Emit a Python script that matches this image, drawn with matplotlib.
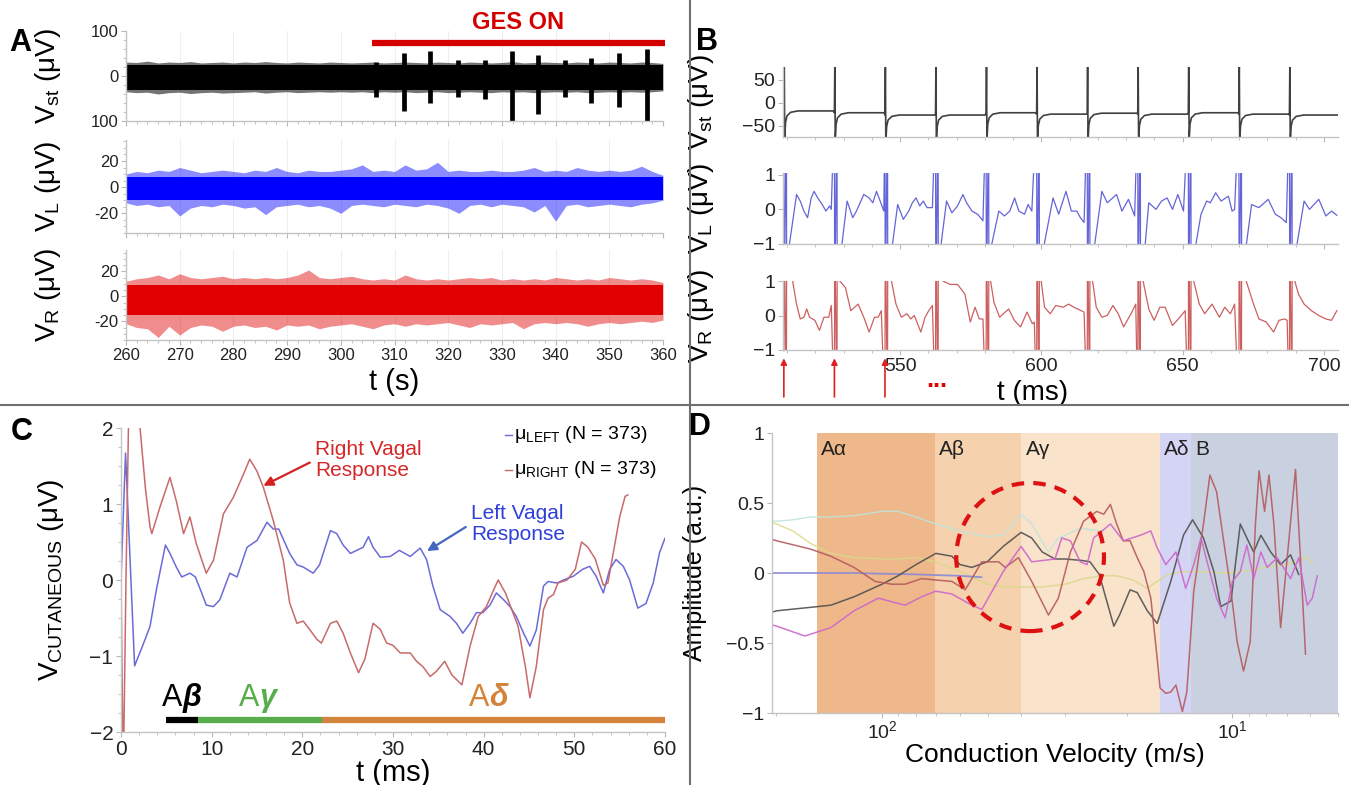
import numpy as np
import matplotlib.pyplot as plt
from matplotlib.lines import Line2D
from matplotlib.patches import Ellipse
from matplotlib.ticker import MultipleLocator, NullFormatter, LogLocator

plt.rcParams['font.family'] = ['Liberation Sans', 'DejaVu Sans']
plt.rcParams['mathtext.fontset'] = 'custom'
plt.rcParams['mathtext.rm'] = 'Liberation Sans'
plt.rcParams['mathtext.it'] = 'Liberation Sans:italic'
plt.rcParams['mathtext.bf'] = 'Liberation Sans:bold'

NARROW = ['Liberation Sans Narrow', 'Liberation Sans', 'DejaVu Sans']

# ---------------- A: raw recordings (envelopes every 2 s) ----------------
a_time = np.arange(260, 361, 2)
vst_hi = [31, 30, 33, 29, 31, 30, 32, 29, 30, 31, 29, 31, 30, 32, 30, 29, 31, 30, 29, 31,
          30, 29, 30, 31, 29, 30, 31, 30, 29, 31, 30, 29, 31, 30, 29, 30, 32, 29, 30, 31,
          30, 29, 31, 30, 29, 31, 30, 29, 31, 30, 28]
vst_lo = [-35, -37, -36, -40, -37, -36, -39, -37, -36, -38, -37, -36, -35, -38, -36, -35, -37,
          -36, -35, -36, -35, -36, -35, -37, -35, -36, -35, -37, -36, -35, -37, -36, -35, -36,
          -37, -35, -36, -35, -37, -36, -35, -36, -35, -37, -36, -35, -36, -35, -36, -35, -33]
vst_core = (25, -30)
# stimulation artefacts during GES
ges_t = [306.5, 311.8, 316.7, 321.9, 326.9, 331.8, 336.7, 341.8, 346.6, 351.8, 357.0]
ges_hi = [32, 51, 55, 35, 35, 55, 47, 35, 40, 51, 59]
ges_lo = [-46, -77, -61, -46, -50, -100, -84, -46, -61, -69, -100]
ges_on = (305.8, 360.4)

vl_hi = [10, 12, 11, 13, 12, 15, 13, 11, 12, 13, 12, 11, 13, 12, 15, 12, 11, 13, 12, 12,
         13, 14, 17, 12, 13, 12, 17, 13, 14, 19, 12, 13, 12, 12, 13, 12, 12, 13, 15, 12,
         13, 12, 15, 13, 12, 13, 12, 13, 16, 12, 9]
vl_lo = [-12, -14, -13, -15, -14, -22, -16, -14, -15, -13, -14, -16, -15, -21, -15, -14, -13,
         -15, -14, -16, -20, -14, -13, -14, -15, -13, -14, -15, -13, -14, -16, -20, -14, -13,
         -15, -13, -14, -15, -19, -14, -26, -14, -13, -15, -14, -13, -14, -15, -13, -12, -10]
vl_core = (8, -10)

vr_hi = [12, 14, 15, 17, 14, 18, 15, 14, 15, 16, 14, 15, 14, 15, 14, 15, 17, 21, 15, 14,
         15, 16, 14, 13, 14, 13, 17, 14, 13, 14, 13, 14, 15, 14, 15, 13, 14, 13, 14, 13,
         15, 14, 13, 14, 13, 15, 14, 13, 14, 13, 11]
vr_lo = [-22, -25, -26, -33, -24, -31, -25, -23, -24, -28, -24, -23, -25, -24, -27, -23, -24,
         -23, -26, -24, -23, -22, -24, -26, -23, -22, -24, -22, -23, -22, -21, -23, -25, -22,
         -23, -22, -21, -26, -22, -21, -22, -21, -22, -24, -22, -21, -22, -21, -20, -21, -19]
vr_core = (9, -15)

# ---------------- B: single sweeps around each stimulus ----------------
stim_t = [508.8, 526.7, 544.6, 562.5, 580.4, 598.3, 616.2, 634.1, 652.0, 669.9, 687.8]

vst_base = [-18, -22, -27, -27, -22, -25, -23, -25, -22, -25, -27]
vst_art_off = [0.0, 0.15, 0.3, 0.6, 1.1, 2.4, 5.0, 17.6]
vst_art_rel = [0, 110, -60, -25, -11, -3, 0, 0]

vl_art_off = [0.0, 0.1, 0.9, 1.0]
vl_art_val = [3, -3, 3, -3]
vl_off = [
    [1.9, 4.5, 5.8, 7.1, 8.4, 9.7, 10.7, 12.0, 13.6, 14.9, 16.2, 16.8],
    [2.6, 4.5, 6.5, 7.8, 10.4, 12.3, 13.6, 14.9, 16.2, 17.5],
    [2.6, 4.5, 6.5, 8.4, 9.7, 11.0, 12.3, 13.6, 14.9, 16.8],
    [1.9, 3.9, 5.8, 7.8, 9.7, 11.0, 12.9, 14.9, 16.8],
    [1.9, 4.5, 6.5, 8.4, 10.1, 11.6, 13.6, 14.9, 16.2],
    [2.6, 5.8, 7.8, 10.4, 12.3, 14.2, 15.5, 16.8],
    [2.6, 5.2, 7.1, 10.4, 12.3, 14.6, 16.8],
    [2.6, 3.9, 6.5, 8.4, 10.4, 12.3, 14.2, 16.2],
    [2.6, 4.5, 6.5, 7.8, 9.7, 11.6, 14.2, 15.5, 16.4],
    [2.6, 4.5, 7.1, 10.4, 12.9, 14.9, 16.8],
    [2.6, 5.2, 7.1, 10.4, 12.9, 14.9, 16.8],
]
vl_val = [
    [-1.05, 0.43, 0.24, -0.05, -0.24, 0.33, 0.52, 0.33, 0.14, -0.05, 0.10, 0.0],
    [-1.05, 0.24, -0.24, -0.05, 0.43, 0.33, 0.19, 0.52, 0.24, -0.05],
    [-1.05, 0.14, -0.29, -0.05, 0.19, 0.33, 0.10, 0.24, 0.05, 0.05],
    [-1.05, 0.24, -0.10, 0.10, 0.43, 0.19, -0.05, -0.14, -0.33],
    [-1.05, -0.05, -0.19, -0.05, 0.33, -0.05, -0.14, 0.14, -0.05],
    [-1.05, 0.33, -0.14, 0.52, -0.05, -0.05, -0.24, -0.38],
    [-1.05, 0.52, 0.19, 0.43, -0.05, 0.29, -0.19],
    [-1.05, 0.19, 0.0, 0.24, 0.33, 0.0, 0.43, -0.05],
    [-1.05, -0.14, 0.24, 0.19, 0.48, 0.24, 0.38, -0.05, 0.0],
    [-1.05, 0.14, 0.05, 0.29, -0.14, -0.24, -0.38],
    [-1.05, 0.24, 0.0, 0.29, -0.19, -0.05, -0.17],
]

vr_art_off = [0.0, 0.1, 0.9, 1.0]
vr_art_val = [-3, 3, -3, 3]
vr_off = [
    [3.2, 4.5, 5.8, 7.1, 8.1, 9.1, 11.0, 12.6, 14.2, 15.9, 16.8],
    [1.9, 3.9, 5.8, 8.4, 10.4, 12.3, 14.2, 15.5, 16.6],
    [2.3, 3.9, 5.8, 7.8, 9.1, 10.4, 12.7, 14.2, 15.5, 16.8],
    [2.6, 5.2, 7.8, 10.4, 12.3, 14.0, 15.5, 16.8],
    [1.6, 2.8, 4.8, 8.0, 10.0, 12.2, 14.5, 16.4, 17.1],
    [1.6, 2.8, 4.8, 6.8, 9.4, 11.3, 13.2, 15.8, 16.8],
    [1.9, 3.2, 5.2, 7.1, 9.1, 11.0, 12.9, 15.5, 17.2],
    [1.9, 3.9, 5.8, 7.8, 9.7, 12.3, 14.9, 16.8],
    [1.9, 3.9, 5.8, 8.4, 11.0, 12.9, 14.9, 16.4],
    [2.6, 5.2, 7.1, 9.7, 12.3, 14.2, 16.2, 17.1],
    [1.9, 3.2, 5.2, 7.8, 10.4, 12.9, 14.9, 16.8],
]
vr_val = [
    [0.95, 0.33, -0.10, -0.05, 0.19, -0.05, -0.14, -0.43, -0.05, -0.05, 0.29],
    [1.0, 0.81, 0.14, 0.33, -0.05, -0.48, -0.05, -0.05, 0.14],
    [1.0, 0.33, -0.05, 0.05, -0.10, 0.0, -0.48, -0.05, 0.14, 0.29],
    [1.0, 0.90, 0.90, 0.62, -0.19, 0.24, -0.10, -0.10],
    [1.0, 0.38, -0.05, 0.19, -0.14, -0.33, 0.10, -0.24, -0.19],
    [1.0, 0.24, 0.05, 0.29, 0.24, 0.33, 0.24, 0.14, 0.10],
    [1.0, 0.24, -0.05, 0.0, 0.29, 0.05, -0.33, 0.05, 0.33],
    [1.0, 0.19, -0.14, 0.24, 0.24, -0.29, -0.05, 0.14],
    [1.0, 0.33, 0.05, 0.33, -0.05, 0.24, 0.05, 0.33],
    [1.0, 0.33, -0.10, -0.19, -0.48, -0.14, -0.10, -0.14],
    [1.0, 0.62, 0.33, 0.14, 0.0, -0.10, -0.14, 0.14],
]

# ---------------- C: averaged cutaneous responses ----------------
left_t = [0.0, 0.5, 1.5, 2.5, 3.2, 3.9, 4.9, 5.4, 6.1, 6.7, 7.6, 8.2, 8.9, 9.4, 10.2,
          10.9, 12.0, 12.8, 13.9, 15.0, 16.1, 16.8, 17.4, 18.6, 19.4, 20.1, 21.2, 21.9, 23.1, 23.8,
          24.5, 25.3, 26.0, 26.7, 27.3, 27.8, 28.6, 29.7, 30.7, 31.9, 33.0, 33.7, 34.4, 35.2, 36.3,
          37.0, 37.7, 38.5, 39.2, 39.9, 40.7, 41.4, 42.2, 42.9, 43.6, 44.4, 45.1, 45.8, 46.6, 47.1,
          48.1, 48.8, 49.9, 50.9, 51.7, 52.4, 53.2, 53.9, 54.6, 55.4, 56.1, 57.0, 57.9, 58.7, 59.4,
          60.0]
left_v = [0.0, 1.67, -1.13, -0.83, -0.61, -0.13, 0.46, 0.35, 0.17, 0.04, 0.09, 0.04, -0.17, -0.33,
          -0.35, -0.26, 0.09, 0.04, 0.43, 0.52, 0.76, 0.67, 0.67, 0.35, 0.20, 0.17, 0.09, 0.20,
          0.65, 0.61, 0.46, 0.35, 0.39, 0.43, 0.57, 0.43, 0.30, 0.31, 0.39, 0.31, 0.42, 0.27,
          -0.08, -0.39, -0.48, -0.57, -0.70, -0.57, -0.43, -0.43, -0.33, -0.17, -0.26, -0.35,
          -0.48, -0.70, -0.87, -0.66, -0.08, -0.02, -0.04, 0.00, 0.05, 0.14, 0.18, 0.05, -0.17,
          0.14, 0.27, 0.18, 0.00, -0.37, -0.31, -0.04, 0.36, 0.55]
right_t = [0.0, 0.25, 0.55, 0.9, 1.6, 2.1, 2.7, 3.2, 3.4, 4.3, 5.4, 6.1, 6.9, 7.6, 8.3,
           9.4, 10.2, 11.3, 12.4, 13.5, 14.2, 15.0, 15.7, 16.8, 17.9, 18.6, 19.4, 20.1, 20.8, 21.6,
           22.1, 23.1, 23.8, 24.5, 25.3, 26.2, 26.9, 27.8, 28.6, 29.3, 30.0, 30.8, 31.9, 32.6, 33.3,
           34.1, 34.8, 35.7, 36.5, 37.6, 38.5, 39.4, 40.3, 41.1, 41.6, 42.4, 43.1, 43.8, 44.6, 45.1,
           45.8, 46.6, 47.1, 47.7, 48.2, 49.2, 50.1, 50.8, 51.5, 52.3, 53.2, 53.7, 54.3, 55.0, 55.6,
           55.9]
right_v = [0.0, -2.6, 0.0, 2.6, 2.6, 2.0, 1.2, 0.7, 0.61, 0.96, 1.35, 1.04, 0.61, 0.83, 0.48,
           0.09, 0.26, 0.87, 1.09, 1.39, 1.59, 1.43, 1.22, 0.78, 0.26, -0.30, -0.57, -0.54, -0.65,
           -0.78, -0.83, -0.57, -0.54, -0.70, -0.96, -1.22, -1.04, -0.57, -0.65, -0.83, -0.86,
           -0.96, -0.96, -1.07, -1.14, -1.27, -1.20, -1.07, -1.25, -1.38, -0.87, -0.48, -0.35,
           -0.13, 0.0, -0.17, -0.39, -0.61, -1.14, -1.55, -1.14, -0.39, -0.24, -0.19, -0.04, 0.0,
           0.14, 0.50, 0.43, 0.28, -0.07, -0.04, 0.36, 0.83, 1.10, 1.12]
fiber_names = ['β', 'γ', 'δ']
fiber_span = [(5.0, 8.5), (8.5, 22.2), (22.2, 60.0)]
fiber_colors = ['#000000', '#55ad4b', '#d4843a']
fiber_label_t = [6.8, 15.3, 40.6]

# ---------------- D: conduction velocity spectra ----------------
band_names = ['Aα', 'Aβ', 'Aγ', 'Aδ', 'B']
band_edges = [(153, 70.6), (70.6, 40), (40, 16.1), (16.1, 13.1), (13.1, 5)]
band_colors = ['#eeb88a', '#f5d1ad', '#fae3cb', '#d4d4f4', '#c9d1e1']

teal_v = [206, 199.6, 179.6, 159.6, 140, 120.2, 100, 90, 80, 70.2, 59.9, 50.1, 45.1, 40.1,
          37.4, 33.5, 31.4, 30.0, 27.2, 23.8]
teal_a = [0.37, 0.37, 0.38, 0.40, 0.40, 0.41, 0.44, 0.44, 0.40, 0.35, 0.30, 0.26, 0.27, 0.42,
          0.35, 0.15, 0.25, 0.27, 0.32, 0.30]
olive_v = [206, 199.6, 179.6, 159.6, 140, 120.2, 100, 90, 80, 70.2, 59.9, 50.1, 45.1, 40.1,
           34.9, 30.0, 26.6, 23.8, 21.4, 19.2, 17.5, 16.4, 15.3, 13.8, 12.1, 10.6, 9.3, 8.1,
           7.13, 6.53, 6.12, 5.92]
olive_a = [0.36, 0.35, 0.30, 0.21, 0.14, 0.11, 0.10, 0.10, 0.11, 0.08, 0.01, -0.08, -0.10,
           -0.10, -0.10, -0.08, -0.04, -0.02, -0.02, -0.05, -0.11, -0.06, -0.01, 0.01, 0.01,
           0.0, 0.01, 0.04, 0.06, 0.08, 0.12, 0.06]
lav_v = [206, 160, 120, 100, 80, 70, 60, 52]
lav_a = [0.0, 0.0, 0.0, -0.005, -0.01, -0.015, -0.02, -0.03]
gray_v = [206, 199.6, 159.6, 140, 120.2, 100, 90, 80, 70.2, 63.2, 59.9, 55.4, 50.1, 45.1, 40.1,
          37.4, 34.9, 32.1, 30.0, 27.0, 25.5, 24.0, 21.8, 21.0, 19.6, 18.7, 17.5, 16.4, 15.0,
          13.8, 13.0, 12.1, 11.3, 10.8, 10.1, 9.5, 9.1, 8.7, 8.3, 7.78, 7.29, 6.83, 6.47]
gray_a = [-0.28, -0.27, -0.245, -0.23, -0.17, -0.08, -0.02, 0.06, 0.14, 0.12, 0.06, 0.04, 0.08,
          0.19, 0.29, 0.25, 0.15, 0.10, 0.10, 0.09, 0.08, -0.01, -0.38, -0.30, -0.12, -0.14,
          -0.27, -0.36, -0.06, 0.27, 0.38, 0.25, 0.01, -0.24, -0.20, 0.35, 0.25, 0.15, 0.27,
          0.15, 0.06, 0.13, -0.01]
brown_v = [206, 199.6, 159.6, 140, 120.2, 104.7, 93.8, 85.9, 77.1, 70.2, 63.2, 57.9, 51.9, 46.5,
           44.5, 40.8, 37.4, 33.5, 31.4, 30.0, 29.0, 26.6, 24.4, 23.3, 22.3, 21.4, 20.5, 19.6,
           18.7, 17.9, 17.1, 16.4, 16.1, 15.5, 15.0, 14.5, 13.9, 13.5, 12.9, 12.1, 11.6, 11.1,
           10.6, 10.1, 9.7, 9.3, 8.9, 8.6, 8.4, 8.1, 7.87, 7.62, 7.29, 6.98, 6.61, 6.40, 6.19]
brown_a = [0.24, 0.23, 0.17, 0.12, 0.04, -0.06, -0.08, -0.08, -0.04, -0.05, -0.06, -0.12, 0.08,
           0.08, 0.04, 0.11, -0.06, -0.30, -0.18, 0.01, 0.15, 0.37, 0.44, 0.42, 0.49, 0.35, 0.23,
           0.23, 0.11, 0.01, -0.18, -0.61, -0.82, -0.86, -0.85, -0.80, -0.99, -0.85, -0.13, 0.35,
           0.70, 0.58, 0.23, -0.13, -0.49, -0.70, -0.49, 0.35, 0.73, 0.44, 0.70, 0.35, -0.39,
           0.11, 0.74, 0.11, -0.58]
pink_v = [206, 199.6, 166, 140, 120.2, 102.5, 85.9, 77.1, 70.2, 63.2, 55.4, 51.9, 45.1, 40.1,
          37.4, 32.1, 30.7, 29.0, 27.2, 26.0, 24.9, 22.3, 20.5, 18.3, 17.1, 16.4, 15.5, 14.5,
          13.6, 12.9, 12.3, 11.7, 11.1, 10.5, 10.0, 9.5, 9.1, 8.7, 8.3, 7.96, 7.45, 6.83, 6.47,
          6.12, 5.92, 5.73]
pink_a = [-0.37, -0.38, -0.45, -0.39, -0.27, -0.18, -0.23, -0.17, -0.13, -0.15, -0.23, -0.26,
          0.01, 0.19, 0.08, 0.10, 0.25, 0.23, 0.08, 0.06, 0.25, 0.35, 0.23, 0.27, 0.30, 0.18,
          0.06, 0.15, -0.11, 0.06, 0.25, 0.04, -0.18, -0.32, -0.06, 0.01, 0.20, -0.04, 0.15,
          0.04, 0.11, -0.04, 0.11, -0.23, -0.18, -0.02]


def px(x0, y0, x1, y1):
    # rectangle in pixel units (top-left origin) -> figure fraction
    W, H = 1349.0, 785.0
    return [x0 / W, 1 - y1 / H, (x1 - x0) / W, (y1 - y0) / H]


def light_axes(ax, tick_size, family=None):
    for s in ['top', 'right']:
        ax.spines[s].set_visible(False)
    for s in ['left', 'bottom']:
        ax.spines[s].set_color('#c4c4c4')
        ax.spines[s].set_linewidth(1.0)
    ax.tick_params(which='both', color='#b8b8b8', labelcolor='#222222', labelsize=tick_size,
                   direction='out', pad=2)
    ax.tick_params(which='major', length=3.5)
    ax.tick_params(which='minor', length=2)
    if family:
        for lab in ax.get_xticklabels() + ax.get_yticklabels():
            lab.set_family(family)


def sweeps(art_off, art_val, offs, vals):
    t, v = [], []
    for s, o, y in zip(stim_t, offs, vals):
        t += [s + d for d in art_off] + [s + d for d in o]
        v += list(art_val) + list(y)
    return t, v


fig = plt.figure(figsize=(13.49, 7.85), dpi=100)

# ---------------- panel A ----------------
axA1 = fig.add_axes(px(126, 31, 663, 121))
axA2 = fig.add_axes(px(126, 140, 663, 233))
axA3 = fig.add_axes(px(126, 250, 663, 340))

traces = [
    (axA1, vst_hi, vst_lo, vst_core, '#000000', (-100, 100), 0.55),
    (axA2, vl_hi, vl_lo, vl_core, '#0000ff', (-35, 36), 0.45),
    (axA3, vr_hi, vr_lo, vr_core, '#e00000', (-35, 37), 0.45),
]
for ax, hi, lo, core, col, yl, fuzz in traces:
    for gx in range(260, 361, 10):
        ax.axvline(gx, color='#eeeeee', lw=0.8, zorder=0)
    ax.fill_between(a_time, lo, hi, color=col, alpha=fuzz, lw=0)
    ax.fill_between(a_time, core[1], core[0], color=col, lw=0)
    ax.set_xlim(260, 360)
    ax.set_ylim(*yl)
    ax.xaxis.set_major_locator(MultipleLocator(10))
    ax.xaxis.set_minor_locator(MultipleLocator(2))

axA1.vlines(ges_t, ges_lo, ges_hi, color='#000000', lw=3.4)
axA1.set_yticks([100, 0, -100])
axA1.set_yticklabels(['100', '0', '100'])
axA1.yaxis.set_minor_locator(MultipleLocator(20))
for ax in (axA2, axA3):
    ax.set_yticks([20, 0, -20])
    ax.set_yticklabels(['20', '0', '-20'])
    ax.yaxis.set_minor_locator(MultipleLocator(5))
for ax in (axA1, axA2):
    ax.set_xticklabels([])
for ax in (axA1, axA2, axA3):
    light_axes(ax, 12, NARROW)

axA1.plot(ges_on, [73, 73], color='#d40000', lw=4.5, solid_capstyle='butt', clip_on=False)
axA1.text(333, 118, 'GES ON', ha='center', va='center', color='#d40000', fontsize=17,
          fontweight='bold', family=NARROW, clip_on=False)

for ax, lab in [(axA1, r'V$_{\rm st}$ (μV)'), (axA2, r'V$_{\rm L}$ (μV)'),
                (axA3, r'V$_{\rm R}$ (μV)')]:
    ax.set_ylabel(lab, fontsize=20)
    ax.yaxis.set_label_coords(-0.117, 0.5)
axA3.set_xlabel('t (s)', fontsize=21, family=NARROW, labelpad=4)

# ---------------- panel B ----------------
axB1 = fig.add_axes(px(783, 67, 1338, 137))
axB2 = fig.add_axes(px(783, 173, 1338, 244))
axB3 = fig.add_axes(px(783, 281, 1338, 350))

st_t, st_v = [], []
for s, base in zip(stim_t, vst_base):
    st_t += [s + d for d in vst_art_off]
    st_v += [base + r for r in vst_art_rel]
axB1.plot(st_t, st_v, color='#404040', lw=1.2)
tl, vl = sweeps(vl_art_off, vl_art_val, vl_off, vl_val)
axB2.plot(tl, vl, color='#6464d8', lw=0.9)
tr, vr = sweeps(vr_art_off, vr_art_val, vr_off, vr_val)
axB3.plot(tr, vr, color='#cc6060', lw=0.9)

axB1.set_ylim(-75, 78)
axB1.set_yticks([50, 0, -50])
axB1.set_yticklabels(['50', '0', '−50'])
axB2.set_ylim(-1, 1.05)
axB3.set_ylim(-1, 1.0)
for ax in (axB2, axB3):
    ax.set_yticks([1, 0, -1])
    ax.set_yticklabels(['1', '0', '−1'])
for ax in (axB1, axB2, axB3):
    ax.set_xlim(508.5, 705)
    ax.xaxis.set_major_locator(MultipleLocator(50))
    ax.xaxis.set_minor_locator(MultipleLocator(10))
    light_axes(ax, 14)
for ax in (axB1, axB2):
    ax.set_xticklabels([])
for ax, lab in [(axB1, r'V$_{\rm st}$ (μV)'), (axB2, r'V$_{\rm L}$ (μV)'),
                (axB3, r'V$_{\rm R}$ (μV)')]:
    ax.set_ylabel(lab, fontsize=20)
    ax.yaxis.set_label_coords(-0.12, 0.5)
axB3.set_xlabel('t (ms)', fontsize=20, labelpad=0)
axB3.xaxis.set_label_coords(0.45, -0.43)

bx = axB3.get_xaxis_transform()
for s in stim_t[:3]:
    axB3.annotate('', xy=(s, -0.12), xytext=(s, -0.68), xycoords=bx, textcoords=bx,
                  arrowprops=dict(arrowstyle='-|>', color='#e02020', lw=1.2,
                                  mutation_scale=9, shrinkA=0, shrinkB=0))
axB3.text(563, -0.44, '...', transform=bx, color='#e00000', fontsize=18,
          fontweight='bold', ha='center', va='center')

# ---------------- panel C ----------------
axC = fig.add_axes(px(121, 428, 665, 732))
axC.plot(left_t, left_v, color='#6b6bd8', lw=1.1)
axC.plot(right_t, right_v, color='#c86a6a', lw=1.1)
axC.set_xlim(0, 60)
axC.set_ylim(-2, 2)
axC.xaxis.set_major_locator(MultipleLocator(10))
axC.xaxis.set_minor_locator(MultipleLocator(2))
axC.set_yticks([2, 1, 0, -1, -2])
axC.set_yticklabels(['2', '1', '0', '−1', '−2'])
axC.yaxis.set_minor_locator(MultipleLocator(0.25))
light_axes(axC, 15)
axC.set_ylabel(r'V$_{\rm CUTANEOUS}$ (μV)', fontsize=20)
axC.yaxis.set_label_coords(-0.101, 0.5)
axC.set_xlabel('t (ms)', fontsize=21, labelpad=0)

for (a, b), col in zip(fiber_span, fiber_colors):
    axC.plot([a, b], [-1.84, -1.84], color=col, lw=4.5, solid_capstyle='butt')
for name, tx, col in zip(fiber_names, fiber_label_t, fiber_colors):
    axC.text(tx, -1.55, 'A', color=col, fontsize=22, ha='right', va='center')
    axC.text(tx, -1.55, name, color=col, fontsize=22, ha='left', va='center',
             fontweight='bold', fontstyle='italic')

axC.plot([42.3, 43.1], [1.91, 1.91], color='#6b6bd8', lw=1.0)
axC.plot([42.3, 43.1], [1.45, 1.45], color='#c86a6a', lw=1.0)
axC.text(43.3, 1.91, r'μ$_{\rm LEFT}$ (N = 373)', fontsize=14, va='center')
axC.text(43.3, 1.45, r'μ$_{\rm RIGHT}$ (N = 373)', fontsize=14, va='center')

axC.annotate('Right Vagal\nResponse', xy=(15.7, 1.24), xytext=(21.4, 1.58),
             color='#d42828', fontsize=15, ha='left', va='center', multialignment='left',
             linespacing=1.15,
             arrowprops=dict(arrowstyle='-|>', color='#d42020', lw=1.6, mutation_scale=14,
                             relpos=(0, 0.5), shrinkA=2, shrinkB=0))
axC.annotate('Left Vagal\nResponse', xy=(33.75, 0.38), xytext=(38.6, 0.74),
             color='#2f3fd8', fontsize=15, ha='left', va='center', multialignment='left',
             linespacing=1.15,
             arrowprops=dict(arrowstyle='-|>', color='#4468c0', lw=1.6, mutation_scale=14,
                             relpos=(0, 0.5), shrinkA=2, shrinkB=0))

# ---------------- panel D ----------------
axD = fig.add_axes(px(772, 433, 1338, 713))
axD.set_xscale('log')
for (a, b), col, name in zip(band_edges, band_colors, band_names):
    axD.axvspan(a, b, color=col, lw=0, zorder=0)
    axD.annotate(name, xy=(a, 0.88), xytext=(3, 0), textcoords='offset points',
                 fontsize=15, ha='left', va='center', color='#222222')

d_lines = [
    (teal_v, teal_a, '#bfe3db', 1.0),
    (olive_v, olive_a, '#d9d98a', 1.0),
    (lav_v, lav_a, '#8a8ad8', 1.3),
    (gray_v, gray_a, '#4f4f4f', 1.1),
    (brown_v, brown_a, '#b45a5e', 1.1),
    (pink_v, pink_a, '#cc66cc', 1.1),
]
for v, a, col, lw in d_lines:
    axD.plot(v, a, color=col, lw=lw, alpha=0.9)

axD.add_patch(Ellipse((0.456, 0.557), 0.261, 0.529, transform=axD.transAxes, fill=False,
                      ec='#dd1111', lw=3, ls=(0, (3, 2.2)), zorder=5))
axD.set_xlim(206, 5)
axD.set_ylim(-1, 1)
axD.set_yticks([1, 0.5, 0, -0.5, -1])
axD.set_yticklabels(['1', '0.5', '0', '−0.5', '−1'])
axD.xaxis.set_major_locator(LogLocator(base=10, numticks=5))
axD.xaxis.set_minor_locator(LogLocator(base=10, subs=np.arange(2, 10), numticks=20))
axD.xaxis.set_minor_formatter(NullFormatter())
light_axes(axD, 14)
axD.set_ylabel('Amplitude (a.u.)', fontsize=18)
axD.yaxis.set_label_coords(-0.115, 0.5)
axD.set_xlabel('Conduction Velocity (m/s)', fontsize=19, labelpad=0)

# ---------------- layout decorations ----------------
fig.add_artist(Line2D([690 / 1349.0] * 2, [0, 1], color='#707070', lw=1.5))
fig.add_artist(Line2D([0, 1], [1 - 405 / 785.0] * 2, color='#707070', lw=1.5))
for lab, x, y in [('A', 20, 43), ('B', 707, 42), ('C', 22, 432), ('D', 700, 427)]:
    fig.text(x / 1349.0, 1 - y / 785.0, lab, fontsize=22, fontweight='bold',
             ha='center', va='center')

fig.savefig('out.png', dpi=100)
